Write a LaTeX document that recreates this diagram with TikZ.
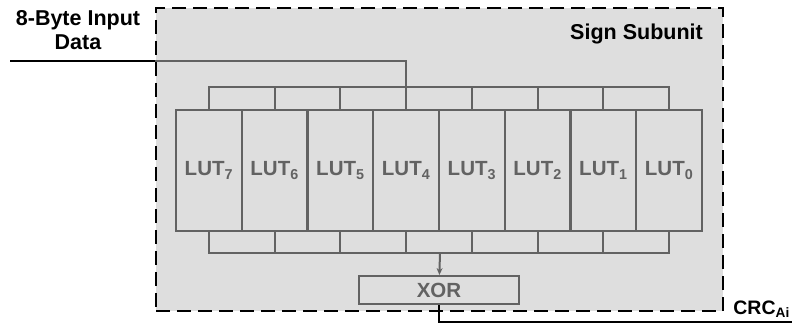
\documentclass[tikz,border=0pt]{standalone}
\usepackage{fontspec}
\setmainfont{Liberation Sans}
\usetikzlibrary{arrows.meta}
\definecolor{unitgray}{HTML}{DEDEDE}
\definecolor{wiregray}{HTML}{626262}

\begin{document}
\begin{tikzpicture}[x=1pt, y=-1pt,
unitframe/.style={draw=black, fill=unitgray, line width=2.5pt, dash pattern=on 14pt off 7pt, minimum width=567pt, minimum height=303pt},
lut/.style={draw=wiregray, fill=unitgray, line width=2pt, minimum width=65.75pt, minimum height=121pt, inner sep=0pt, text=wiregray, font=\fontsize{20.5}{24}\selectfont\bfseries},
xorbox/.style={draw=wiregray, fill=unitgray, line width=2pt, minimum width=160pt, minimum height=28pt, inner sep=0pt, text=wiregray, font=\fontsize{20.5}{24}\selectfont\bfseries},
wire/.style={draw=wiregray, line width=2pt},
textlbl/.style={font=\fontsize{21.5}{24}\selectfont\bfseries, align=center, inner sep=0pt}
]
\useasboundingbox (0,0) rectangle (792,323);

\node[unitframe] (unit) at (439.5,159.5) {};
\node[textlbl, anchor=east] (title) at (703,34) {Sign Subunit};
\node[textlbl] (input) at (78,30) {8-Byte Input\\Data};

\node[lut] (L7) at (208.9,170.5) {LUT\textsubscript{7}};
\node[lut] (L6) at (274.6,170.5) {LUT\textsubscript{6}};
\node[lut] (L5) at (340.4,170.5) {LUT\textsubscript{5}};
\node[lut] (L4) at (406.1,170.5) {LUT\textsubscript{4}};
\node[lut] (L3) at (471.9,170.5) {LUT\textsubscript{3}};
\node[lut] (L2) at (537.6,170.5) {LUT\textsubscript{2}};
\node[lut] (L1) at (603.4,170.5) {LUT\textsubscript{1}};
\node[lut] (L0) at (669.1,170.5) {LUT\textsubscript{0}};

\node[xorbox] (xor) at (439,290) {XOR};
\node[textlbl, anchor=base east, font=\fontsize{19.5}{24}\selectfont\bfseries] (crc) at (790,314) {CRC\textsubscript{Ai}};

\coordinate (in) at (10,61);
\coordinate (out) at (792,322);
\path (L4.north) ++(0,-22) coordinate (fan);
\path (L4.south east) ++(0,21) coordinate (merge);

% input fan-out
\draw[line width=1.6pt] (in) -- (in -| unit.west);
\draw[wire] (in -| unit.west) -| (fan);
\draw[wire] (L7.north) -- ++(0,-22) -| (L0.north);
\foreach \n in {6,...,1}
  \draw[wire] (L\n.north) -- ++(0,-22);

% LUT outputs to XOR
\draw[wire] (L7.south) -- ++(0,21) -| (L0.south);
\foreach \n in {6,...,1}
  \draw[wire] (L\n.south) -- ++(0,21);
\draw[wire, -{Stealth[length=7pt, width=6pt]}] (merge) -- (xor);

\draw[line width=1.6pt] (xor) |- (out);
\end{tikzpicture}
\end{document}
